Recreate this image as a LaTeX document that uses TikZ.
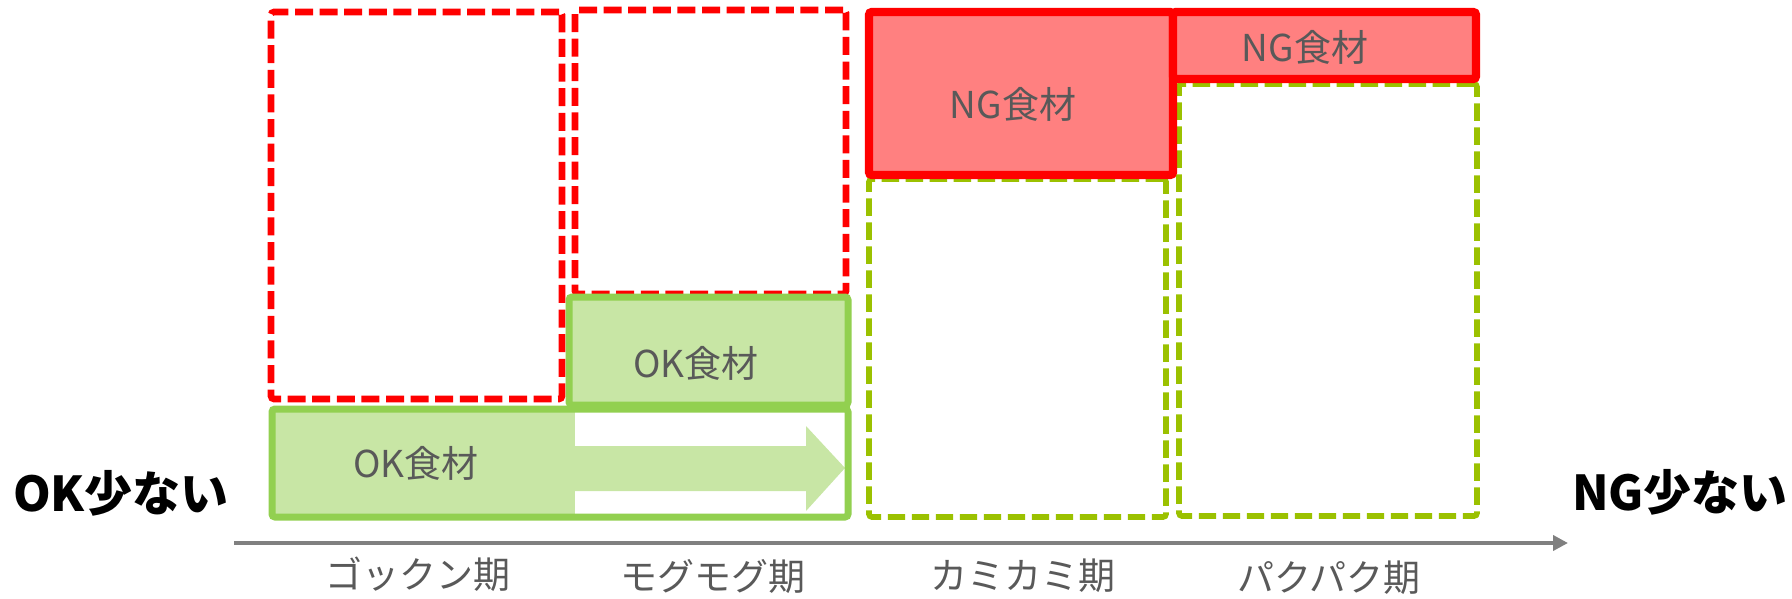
\documentclass[tikz,border=0pt]{standalone}
\usepackage{fontspec}
\setmainfont{Noto Sans CJK JP}
\usetikzlibrary{arrows.meta,fit}
\definecolor{ngred}{RGB}{255,0,0}
\definecolor{ngfill}{RGB}{255,128,128}
\definecolor{okline}{RGB}{146,208,80}
\definecolor{okfill}{RGB}{200,230,165}
\definecolor{okdash}{RGB}{155,193,0}
\definecolor{txt}{RGB}{89,89,89}
\definecolor{axisgray}{RGB}{128,128,128}
\begin{document}
\begin{tikzpicture}[x=0.5pt,y=-0.5pt,
  box/.style={inner sep=0pt, outer sep=0pt, rounded corners=1.5pt},
  reddash/.style={box, draw=ngred, line width=3.3pt, dash pattern=on 9pt off 3.3pt},
  greendash/.style={box, draw=okdash, line width=2.85pt, dash pattern=on 8.7pt off 3.3pt},
  ngbox/.style={box, draw=ngred, fill=ngfill, line width=4.2pt},
  okbox/.style={box, draw=okline, line width=3.5pt},
  lbl/.style={text=txt, font=\fontsize{18.5}{22}\selectfont, inner sep=0pt},
  period/.style={lbl, text height=14pt, text depth=3pt},
  side/.style={font=\fontsize{24}{28}\selectfont\bfseries, text=black, inner sep=0pt},
  axisline/.style={draw=axisgray, line width=2.25pt, -{Triangle[length=7.5pt,width=7.5pt]}}
]
\useasboundingbox (0,0) rectangle (1792,599);

% red dashed frames
\node[reddash, fit={(271,12) (562,399)}] (rd1) {};
\node[reddash, fit={(575,10) (846,294)}] (rd2) {};

% OK boxes
\node[okbox, fill=okfill, fit={(569,297) (848,405)}] (gm) {};
\fill[okfill] (272,409) rectangle (575,517);
\fill[okfill] (575,446) -- (806,446) -- (806,426) -- (845,468) -- (806,511) -- (806,491) -- (575,491) -- cycle;
\node[okbox, fit={(272,409) (848,517)}] (gb) {};

% green dashed frames
\node[greendash, fit={(869,179) (1166,517)}] (gd1) {};
\node[greendash, fit={(1179,84) (1477,516)}] (gd2) {};

% NG boxes
\node[ngbox, fit={(869,12) (1173,175)}] (ng1) {};
\node[ngbox, fit={(1173,12) (1476,79)}] (ng2) {};

% box texts
\node[lbl] (t1) at (696,363) {OK食材};
\node[lbl] (t2) at (416,463) {OK食材};
\node[lbl] (t3) at (1013,104) {NG食材};
\node[lbl] (t4) at (1305,47) {NG食材};

% axis
\coordinate (ax0) at (234,543);
\coordinate (ax1) at (1568,543);
\draw[axisline] (ax0) -- (ax1);

% period labels
\node[period] (p1) at (418,577) {ゴックン期};
\node[period] (p2) at (713,579) {モグモグ期};
\node[period] (p3) at (1023,578) {カミカミ期};
\node[period] (p4) at (1329,580) {パクパク期};

% side labels
\node[side] (okl) at (121,493) {OK少ない};
\node[side] (ngl) at (1680,492) {NG少ない};
\end{tikzpicture}
\end{document}
